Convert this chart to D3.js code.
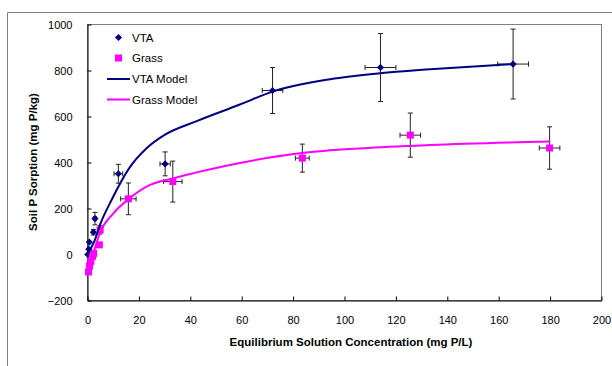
<!DOCTYPE html>
<html>
<head>
<meta charset="utf-8">
<script src="https://cdn.jsdelivr.net/npm/d3@7"></script>
<style>
  body { margin: 0; background: #fff; }
  text { font-family: "Liberation Sans", Arial, sans-serif; }
</style>
</head>
<body>
<div id="chart"></div>
<script>
// measured points
var vtaX = [0.1, 0.5, 0.7, 2.3, 2.9, 12, 30.2, 72, 114, 165.6];
var vtaY = [0, 23, 54, 97, 156, 351, 394, 713, 813, 828];
var vtaErrX = [0, 0, 0, 0, 0.6, 1.7, 2, 4, 6, 6];
var vtaErrY = [0, 0, 0, 12, 27, 41, 52, 100, 148, 152];

var grassX = [0.4, 0.8, 1.3, 2.0, 2.4, 4.6, 4.9, 15.9, 33.2, 83.6, 125.6, 179.8];
var grassY = [-76, -50, -30, -8, 5, 42, 107, 242, 317, 419, 519, 463];
var grassErrX = [0, 0, 0, 0, 0, 0, 0.8, 3, 3.6, 2.7, 4, 4];
var grassErrY = [0, 0, 0, 0, 0, 0, 18, 69, 89, 61, 96, 92];

// model curves
var vtaModelX = [0.1, 1, 2.9, 4.9, 9.4, 16.5, 23, 30, 42.5, 59.3, 71.7, 94.4, 113.8, 133.3, 165.7];
var vtaModelY = [0, 20, 64, 130, 238, 380, 462, 520, 580, 652, 707, 762, 788, 805, 828];
var grassModelX = [0.4, 1, 2.3, 4.9, 10, 15.9, 23, 32.8, 42.5, 59.3, 83.3, 107.3, 133.3, 180];
var grassModelY = [-88, -45, 6, 95, 178, 240, 295, 330, 357, 398, 441, 462, 476, 491];

var xTicks = d3.range(0, 201, 20);
var yTicks = d3.range(-200, 1001, 200);

var legendItems = ["VTA", "Grass", "VTA Model", "Grass Model"];

var navy = "#000080", pink = "#ff00ff";

var svg = d3.select("#chart")
  .append("svg")
  .attr("width", 612)
  .attr("height", 366);

// chart border (only top and left edge visible)
svg.append("path")
  .attr("d", "M7.5,366V12.5H612")
  .attr("fill", "none")
  .attr("stroke", "#808080")
  .attr("stroke-width", 1);

var xScale = d3.scaleLinear().domain([0, 200]).range([87.5, 601.5]);
var yScale = d3.scaleLinear().domain([-200, 1000]).range([300.5, 24.5]);

// plot area frame
svg.append("rect")
  .attr("x", xScale(0))
  .attr("y", yScale(1000))
  .attr("width", xScale(200) - xScale(0))
  .attr("height", yScale(-200) - yScale(1000))
  .attr("fill", "none")
  .attr("stroke", "#808080");

var xAxis = svg.append("g")
  .attr("transform", "translate(0," + yScale(-200) + ")")
  .call(d3.axisBottom(xScale).tickValues(xTicks).tickFormat(d3.format("d"))
    .tickSize(-4).tickSizeOuter(0).tickPadding(16));

var yAxis = svg.append("g")
  .attr("transform", "translate(" + xScale(0) + ",0)")
  .call(d3.axisLeft(yScale).tickValues(yTicks).tickFormat(d3.format("d"))
    .tickSize(-4).tickSizeOuter(0).tickPadding(15));

svg.selectAll(".domain").attr("stroke", "#000");
svg.selectAll(".tick line").attr("stroke", "#000");
svg.selectAll(".tick text")
  .attr("font-family", "Liberation Sans, Arial, sans-serif")
  .attr("font-size", 11)
  .attr("fill", "#000");

// axis titles
svg.append("text")
  .attr("x", 351)
  .attr("y", 346)
  .attr("text-anchor", "middle")
  .attr("font-size", 11.5)
  .attr("font-weight", "bold")
  .text("Equilibrium Solution Concentration (mg P/L)");

svg.append("text")
  .attr("transform", "translate(37,162) rotate(-90)")
  .attr("text-anchor", "middle")
  .attr("font-size", 11.5)
  .attr("font-weight", "bold")
  .text("Soil P Sorption (mg P/kg)");

// error bars
function errorBars(xs, ys, ex, ey) {
  var g = svg.append("g").attr("stroke", "#222").attr("stroke-width", 1);
  xs.forEach(function(x, i) {
    var cx = xScale(x), cy = yScale(ys[i]);
    if (ey[i] > 0) {
      var y1 = yScale(ys[i] + ey[i]), y2 = yScale(ys[i] - ey[i]);
      g.append("line").attr("x1", cx).attr("x2", cx).attr("y1", y1).attr("y2", y2);
      g.append("line").attr("x1", cx - 2.5).attr("x2", cx + 2.5).attr("y1", y1).attr("y2", y1);
      g.append("line").attr("x1", cx - 2.5).attr("x2", cx + 2.5).attr("y1", y2).attr("y2", y2);
    }
    if (ex[i] > 0) {
      var x1 = xScale(x - ex[i]), x2 = xScale(x + ex[i]);
      g.append("line").attr("x1", x1).attr("x2", x2).attr("y1", cy).attr("y2", cy);
      g.append("line").attr("x1", x1).attr("x2", x1).attr("y1", cy - 2.5).attr("y2", cy + 2.5);
      g.append("line").attr("x1", x2).attr("x2", x2).attr("y1", cy - 2.5).attr("y2", cy + 2.5);
    }
  });
}
errorBars(vtaX, vtaY, vtaErrX, vtaErrY);
errorBars(grassX, grassY, grassErrX, grassErrY);

// markers
var diamond = "M0,-3.6L3.6,0L0,3.6L-3.6,0Z";
svg.append("g").selectAll("path")
  .data(vtaX)
  .enter()
  .append("path")
  .attr("d", diamond)
  .attr("fill", navy)
  .attr("transform", function(d, i) { return "translate(" + xScale(d) + "," + yScale(vtaY[i]) + ")"; });

svg.append("g").selectAll("rect")
  .data(grassX)
  .enter()
  .append("rect")
  .attr("x", function(d) { return xScale(d) - 3.5; })
  .attr("y", function(d, i) { return yScale(grassY[i]) - 3.5; })
  .attr("width", 7)
  .attr("height", 7)
  .attr("fill", pink);

// model lines
var line = d3.line()
  .x(function(d) { return xScale(d[0]); })
  .y(function(d) { return yScale(d[1]); })
  .curve(d3.curveMonotoneX);

svg.append("path")
  .datum(d3.zip(vtaModelX, vtaModelY))
  .attr("d", line)
  .attr("fill", "none")
  .attr("stroke", navy)
  .attr("stroke-width", 2);

svg.append("path")
  .datum(d3.zip(grassModelX, grassModelY))
  .attr("d", line)
  .attr("fill", "none")
  .attr("stroke", pink)
  .attr("stroke-width", 2);

// legend
var legend = svg.append("g");
var legendY = [37.5, 58, 79, 99.5];

legend.append("path")
  .attr("d", diamond)
  .attr("fill", navy)
  .attr("transform", "translate(118.5," + legendY[0] + ")");
legend.append("rect")
  .attr("x", 115)
  .attr("y", legendY[1] - 3.5)
  .attr("width", 7)
  .attr("height", 7)
  .attr("fill", pink);
legend.append("line")
  .attr("x1", 107).attr("x2", 130)
  .attr("y1", legendY[2]).attr("y2", legendY[2])
  .attr("stroke", navy).attr("stroke-width", 2);
legend.append("line")
  .attr("x1", 107).attr("x2", 130)
  .attr("y1", legendY[3]).attr("y2", legendY[3])
  .attr("stroke", pink).attr("stroke-width", 2);

legend.selectAll("text")
  .data(legendItems)
  .enter()
  .append("text")
  .attr("x", 132)
  .attr("y", function(d, i) { return legendY[i] + 4; })
  .attr("font-size", 11.5)
  .text(function(d) { return d; });
</script>
</body>
</html>
